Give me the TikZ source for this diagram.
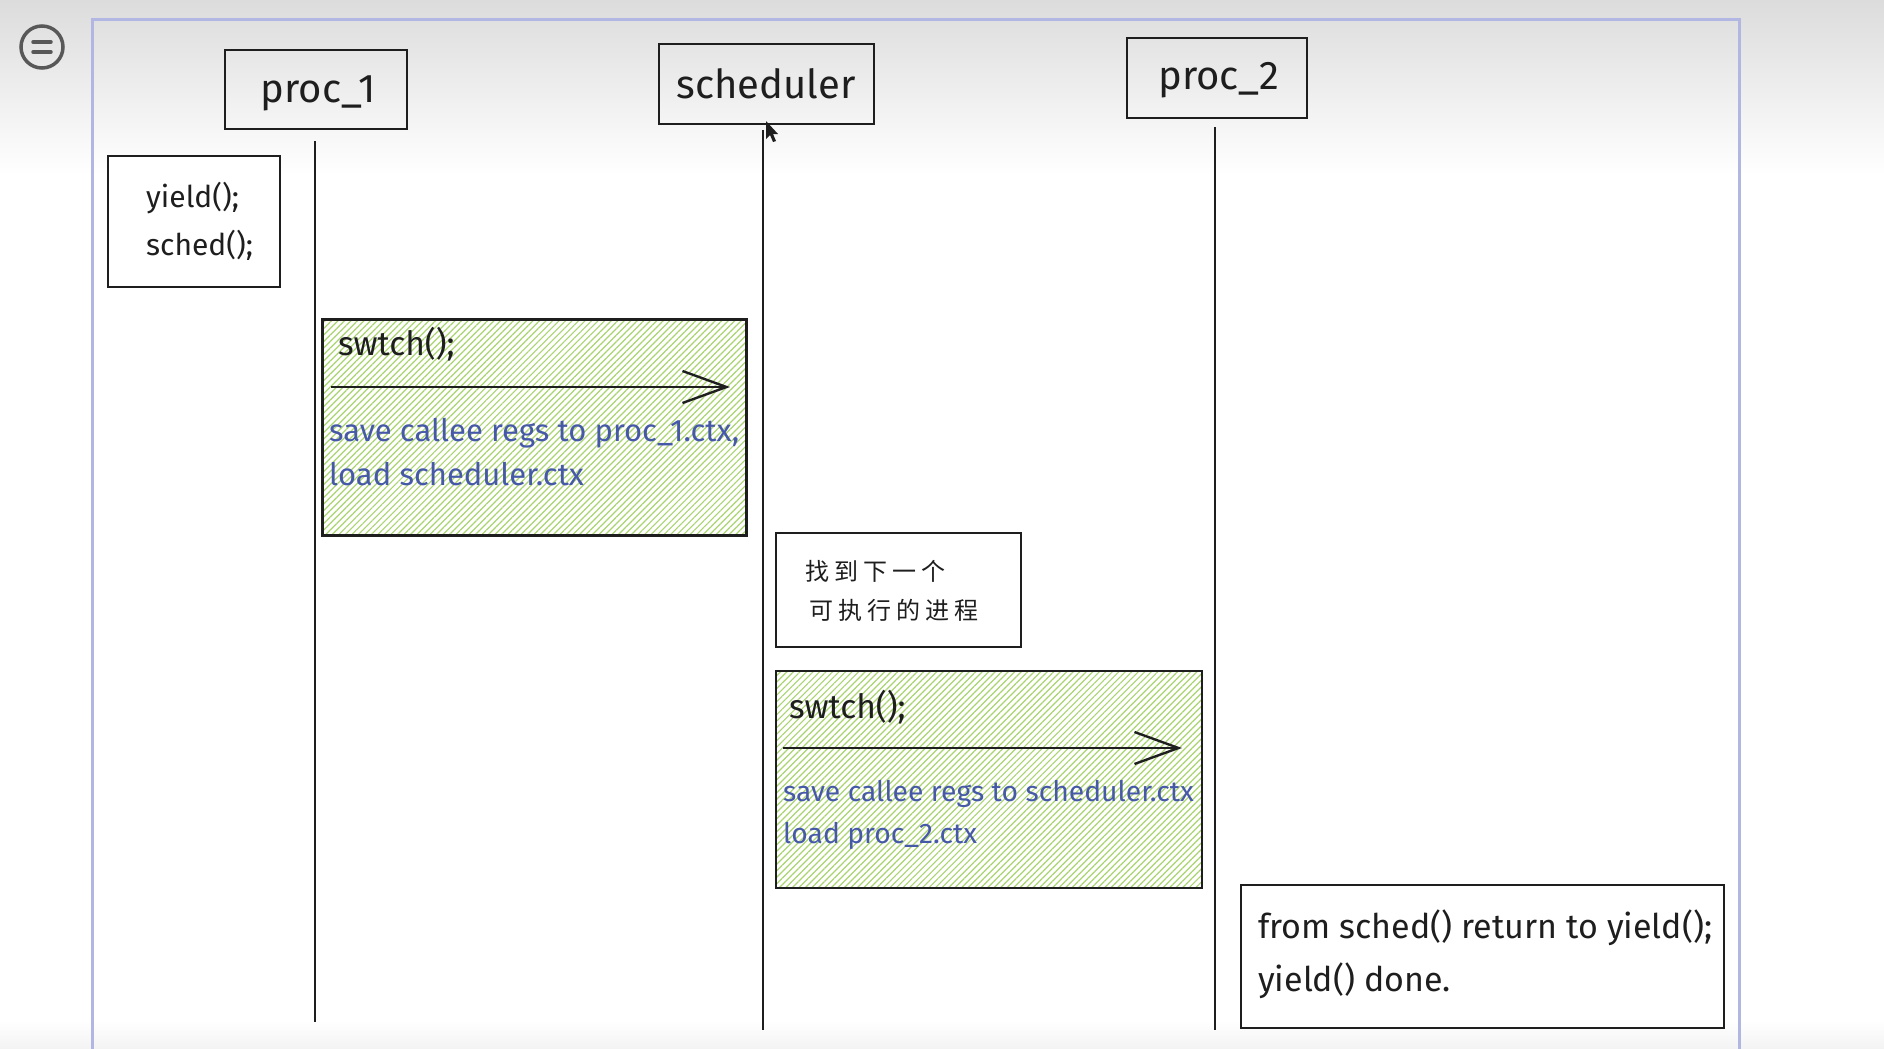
\documentclass[tikz,border=0pt]{standalone}
\usepackage{fontspec}
\setmainfont{Fira Sans}
\newfontfamily\cjk{Noto Sans CJK SC}
\usetikzlibrary{arrows.meta,patterns.meta}

\definecolor{ink}{RGB}{30,30,30}
\definecolor{framecol}{RGB}{178,182,226}
\definecolor{hatch}{RGB}{170,212,112}
\definecolor{notecol}{RGB}{70,88,168}
\definecolor{iconcol}{RGB}{88,88,88}

\tikzset{
  sketchbox/.style={draw=ink, line width=2.4pt, rectangle, inner sep=0pt, anchor=north west},
  greenbox/.style={sketchbox, pattern={Lines[angle=45,distance=4.6pt,line width=1.2pt]}, pattern color=hatch},
  header/.style={font=\fontsize{40}{44}\selectfont, text=ink, inner sep=0pt},
  code/.style={font=\fontsize{30}{34}\selectfont, text=ink, inner sep=0pt, anchor=mid west},
  bigcode/.style={code, font=\fontsize{34}{38}\selectfont},
  note/.style={font=\fontsize{#1}{#1}\selectfont, text=notecol, inner sep=0pt, anchor=mid west},
  note/.default=29.5,
  cjknote/.style={font=\cjk\fontsize{24}{27}\selectfont, text=ink, inner sep=0pt, anchor=mid west},
  lifeline/.style={draw=ink, line width=2.3pt},
  callarrow/.style={draw=ink, line width=2.4pt, -{Straight Barb[length=44pt,width=32pt,line width=2.4pt]}},
}

\begin{document}
\begin{tikzpicture}[x=1pt,y=-1pt]
  % page background with the soft grey band at the top
  \useasboundingbox (0,0) rectangle (1884,1049);
  \fill[white] (0,0) rectangle (1884,1049);
  \shade[top color={rgb,255:red,220;green,220;blue,220}, bottom color=white] (0,0) rectangle (1884,175);
  \shade[top color=white, bottom color={rgb,255:red,243;green,243;blue,243}] (0,1020) rectangle (1884,1049);

  % menu icon
  \draw[iconcol, line width=3.5pt] (42,47) circle[radius=21];
  \draw[iconcol, line width=3.5pt, line cap=round] (33,42) -- (51,42) (33,52) -- (51,52);

  % canvas frame
  \draw[framecol, line width=3pt] (92.5,1049) -- (92.5,20) -- (1739,20) -- (1739,1049);

  % participants
  \node[sketchbox, minimum width=182pt, minimum height=79pt] (proc1) at (224,49) {};
  \node[header] (proc1t) at (318,93) {proc\_1};
  \node[sketchbox, minimum width=215pt, minimum height=80pt] (sched) at (658,43) {};
  \node[header] (schedt) at (766,84) {scheduler};
  \node[sketchbox, minimum width=180pt, minimum height=80pt] (proc2) at (1126,37) {};
  \node[header] (proc2t) at (1219,80) {proc\_2};

  % lifelines
  \coordinate (p1top) at (315,141);
  \coordinate (p1end) at (315,1022);
  \coordinate (stop) at (763,130);
  \coordinate (send) at (763,1030);
  \coordinate (p2top) at (1215,127);
  \coordinate (p2end) at (1215,1030);
  \draw[lifeline] (p1top) -- (p1end);
  \draw[lifeline] (stop) -- (send);
  \draw[lifeline] (p2top) -- (p2end);

  % mouse pointer below the scheduler box
  \fill[ink] (766,121) -- (766,139) -- (770,135) -- (773,142) -- (776,141) -- (773,134) -- (778,134) -- cycle;

  % calls made by proc_1
  \node[sketchbox, fill=white, minimum width=172pt, minimum height=131pt] (yieldbox) at (107,155) {};
  \node[code] (yieldt) at (146,205) {yield();};
  \node[code] (schedcall) at (146,253) {sched();};

  % first context switch
  \node[greenbox, minimum width=424pt, minimum height=216pt] (sw1) at (322,319) {};
  \node[bigcode, font=\fontsize{33.5}{38}\selectfont] (sw1t) at (338,353) {swtch();};
  \coordinate (sw1from) at (331,387);
  \coordinate (sw1to) at (730,387);
  \draw[callarrow] (sw1from) -- (sw1to);
  \node[note=31] (sw1a) at (329,439) {save callee regs to proc\_1.ctx,};
  \node[note=31] (sw1b) at (329,483) {load scheduler.ctx};

  % scheduler picks the next process
  \node[sketchbox, fill=white, minimum width=245pt, minimum height=114pt] (pick) at (775,532) {};
  \node[cjknote] (pick1) at (805,578) {找\hspace{5pt}到\hspace{5pt}下\hspace{5pt}一\hspace{5pt}个};
  \node[cjknote] (pick2) at (809,617) {可\hspace{5pt}执\hspace{5pt}行\hspace{5pt}的\hspace{5pt}进\hspace{5pt}程};

  % second context switch
  \node[greenbox, minimum width=426pt, minimum height=217pt] (sw2) at (775,670) {};
  \node[bigcode, font=\fontsize{33.5}{38}\selectfont] (sw2t) at (789,716) {swtch();};
  \coordinate (sw2from) at (783,748);
  \coordinate (sw2to) at (1182,748);
  \draw[callarrow] (sw2from) -- (sw2to);
  \node[note=28.3] (sw2a) at (783,799) {save callee regs to scheduler.ctx};
  \node[note=28.3] (sw2b) at (783,841) {load proc\_2.ctx};

  % back in proc_2
  \node[sketchbox, fill=white, minimum width=483pt, minimum height=143pt] (done) at (1240,884) {};
  \node[bigcode] (done1) at (1258,936) {from sched() return to yield();};
  \node[bigcode] (done2) at (1258,989) {yield() done.};
\end{tikzpicture}
\end{document}
